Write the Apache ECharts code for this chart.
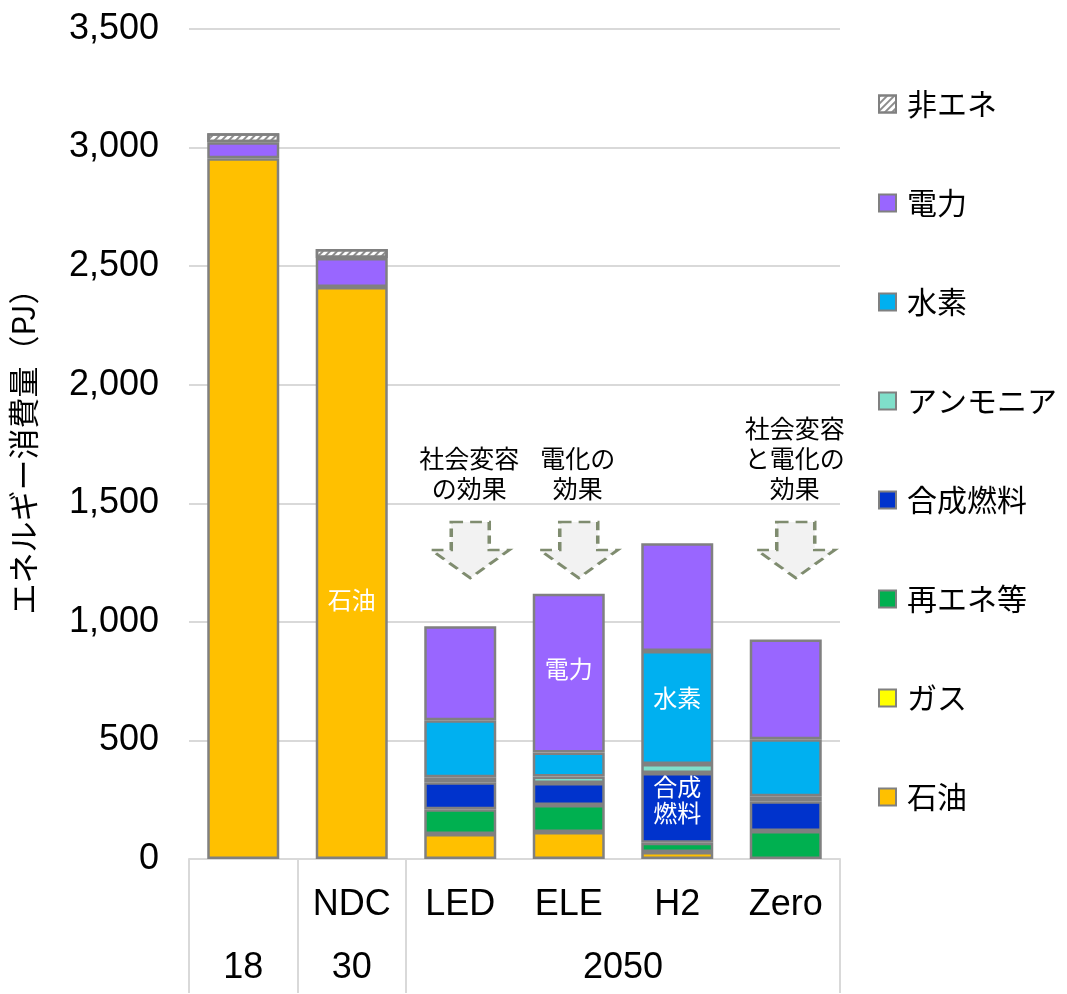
<!DOCTYPE html>
<html>
<head>
<meta charset="utf-8">
<title>エネルギー消費量</title>
<script src="https://cdn.jsdelivr.net/npm/echarts@6/dist/echarts.min.js"></script>
<style>
  html, body { margin: 0; padding: 0; background: #fff; }
  #chart { width: 1067px; height: 994px; }
</style>
</head>
<body>
<div id="chart"></div>
<script>
// categories (row 1 and row 2 of the axis)
const scenarios = ['', 'NDC', 'LED', 'ELE', 'H2', 'Zero']
const years = ['18', '30', '2050']
const yearCenters = [0.5, 1.5, 4]   // middle of each year group, in category units
const yearBounds = [0, 1, 2, 6]

// series values (PJ), bottom to top
const oil = [2955, 2412, 105, 114, 30, 0]
const gas = [0, 0, 0, 0, 0, 0]
const renew = [0, 0, 105, 114, 38, 118]
const synFuel = [0, 0, 114, 93, 295, 126]
const ammonia = [0, 0, 21, 27, 38, 21]
const hydrogen = [0, 0, 240, 101, 476, 240]
const power = [67, 122, 396, 669, 455, 421]
const nonEnergy = [38, 38, 0, 0, 0, 0]

const yTicks = [0, 500, 1000, 1500, 2000, 2500, 3000, 3500]

// notes above the 2050 bars
const noteCats = [2, 3, 5]
const noteTexts = ['社会変容\nの効果', '電化の\n効果', '社会変容\nと電化の\n効果']
const noteValues = [1624, 1624, 1687]
const arrowValue = 1303

const FONT = '"Liberation Sans", "Noto Sans CJK JP", sans-serif'
const JP = '"Noto Sans CJK JP", "Liberation Sans", sans-serif'
const EDGE = '#808080'

// labels written inside some segments: series name -> {index: [text, offset]}
const inside = {
  '石油': { 1: ['石油', [0, 27]] },
  '電力': { 3: ['電力', [0, -4]] },
  '水素': { 4: ['水素', [0, -10]] },
  '合成燃料': { 4: ['合成\n燃料', [0, -8]] }
}

const stackDefs = [
  ['石油', oil, '#FFC000'],
  ['ガス', gas, '#FFFF00'],
  ['再エネ等', renew, '#00B050'],
  ['合成燃料', synFuel, '#0033CC'],
  ['アンモニア', ammonia, '#7FDFCA'],
  ['水素', hydrogen, '#00B0F0'],
  ['電力', power, '#9966FF'],
  ['非エネ', nonEnergy, '#FFFFFF']
]

const arrowPath = 'path://M20 0L58 0L58 28L78 28L39 56L0 28L20 28Z'

const series = stackDefs.map(([name, values, color]) => {
  const labels = inside[name] || {}
  const s = {
    name: name,
    type: 'bar',
    stack: 'total',
    barWidth: 72,
    itemStyle: { color: color, borderColor: EDGE, borderWidth: 2.5 },
    data: values.map((v, i) => {
      const item = { value: v === 0 ? '-' : v }
      if (labels[i]) {
        item.label = {
          show: true,
          position: 'inside',
          formatter: labels[i][0],
          offset: labels[i][1],
          color: '#fff',
          fontFamily: JP,
          fontSize: 24,
          lineHeight: 26
        }
      }
      return item
    })
  }
  if (name === '非エネ') {
    s.itemStyle.decal = {
      symbol: 'rect',
      symbolSize: 1,
      color: '#8c8c8c',
      dashArrayX: [1, 0],
      dashArrayY: [2, 3],
      rotation: -Math.PI / 4
    }
    s.markPoint = {
      silent: true,
      data: noteCats.map((c, i) => ({
        coord: [c, arrowValue],
        symbol: arrowPath,
        symbolSize: [78, 56],
        symbolOffset: [10, 0],
        itemStyle: { color: '#F2F2F2', borderColor: '#7F8C6F', borderWidth: 3, borderType: [10, 6] },
        label: { show: false }
      })).concat(noteCats.map((c, i) => ({
        coord: [c, noteValues[i]],
        symbol: 'circle',
        symbolSize: 1,
        itemStyle: { color: 'rgba(0,0,0,0)' },
        label: {
          show: true,
          position: 'inside',
          offset: [9, 0],
          formatter: noteTexts[i],
          color: '#000',
          fontFamily: JP,
          fontSize: 25,
          lineHeight: 30
        }
      })))
    }
  }
  return s
})

const option = {
  animation: false,
  backgroundColor: '#fff',
  grid: { left: 185, right: 227, top: 29, bottom: 135, containLabel: false },
  legend: {
    orient: 'vertical',
    left: 873,
    top: 84,
    itemWidth: 17,
    itemHeight: 17,
    itemGap: 69,
    icon: 'rect',
    data: ['非エネ', '電力', '水素', 'アンモニア', '合成燃料', '再エネ等', 'ガス', '石油'],
    textStyle: { color: '#000', fontFamily: JP, fontSize: 30, lineHeight: 30, padding: [0, 0, 0, 6] }
  },
  xAxis: [
    {
      type: 'category',
      data: scenarios,
      axisLine: { show: true, lineStyle: { color: '#D9D9D9', width: 2 } },
      axisTick: { show: false },
      axisLabel: { interval: 0, margin: 28, color: '#000', fontFamily: FONT, fontSize: 36, lineHeight: 36 }
    },
    {
      type: 'value',
      position: 'bottom',
      min: 0,
      max: 6,
      axisLine: { show: false },
      splitLine: { show: false },
      axisTick: {
        show: true,
        customValues: yearBounds,
        length: 134,
        lineStyle: { color: '#D9D9D9', width: 2 }
      },
      axisLabel: {
        customValues: yearCenters,
        formatter: v => years[yearCenters.indexOf(v)],
        margin: 91,
        color: '#000',
        fontFamily: FONT,
        fontSize: 36,
        lineHeight: 36
      }
    }
  ],
  yAxis: {
    type: 'value',
    min: 0,
    max: 3500,
    interval: 500,
    name: 'エネルギー消費量（PJ）',
    nameLocation: 'middle',
    nameRotate: 90,
    nameGap: 150,
    nameTextStyle: { color: '#000', fontFamily: JP, fontSize: 31 },
    axisLine: { show: false },
    axisTick: { show: false },
    splitLine: { lineStyle: { color: '#D9D9D9', width: 2 } },
    axisLabel: {
      margin: 30,
      color: '#000',
      fontFamily: FONT,
      fontSize: 36,
      formatter: v => yTicks.includes(v) ? v.toLocaleString('en-US') : ''
    }
  },
  series: series
}

const chart = echarts.init(document.getElementById('chart'))
chart.setOption(option)
window.addEventListener('resize', () => chart.resize())
</script>
</body>
</html>
